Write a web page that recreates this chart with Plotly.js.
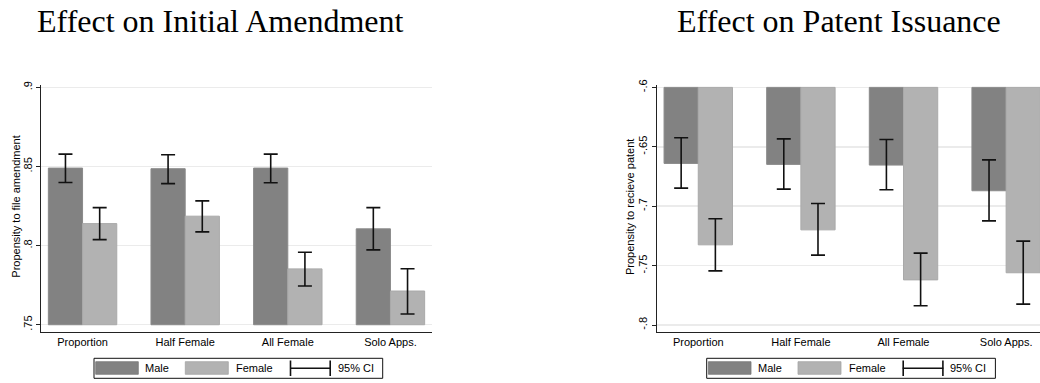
<!DOCTYPE html>
<html>
<head>
<meta charset="utf-8">
<script src="https://cdn.plot.ly/plotly-3.0.1.min.js"></script>
<style>
html, body { margin:0; padding:0; overflow:hidden; background:#fff; width:1040px; height:383px; }
#chart { width:1048px; height:383px; }
</style>
</head>
<body>
<div id="chart"></div>
<script>
// ---- data ----
var categories = ['Proportion', 'Half Female', 'All Female', 'Solo Apps.'];
var amendMale     = [0.8490, 0.8486, 0.8490, 0.8106];
var amendMaleLo   = [0.8399, 0.8392, 0.8397, 0.7973];
var amendMaleHi   = [0.8578, 0.8574, 0.8578, 0.8240];
var amendFemale   = [0.8139, 0.8186, 0.7853, 0.7713];
var amendFemaleLo = [0.8038, 0.8087, 0.7745, 0.7568];
var amendFemaleHi = [0.8240, 0.8283, 0.7958, 0.7854];
var issueMale     = [-0.6640, -0.6648, -0.6654, -0.6870];
var issueMaleLo   = [-0.6848, -0.6856, -0.6862, -0.7123];
var issueMaleHi   = [-0.6424, -0.6433, -0.6438, -0.6610];
var issueFemale   = [-0.7325, -0.7199, -0.7620, -0.7560];
var issueFemaleLo = [-0.7544, -0.7412, -0.7838, -0.7824];
var issueFemaleHi = [-0.7106, -0.6977, -0.7395, -0.7294];
var amendTicks = [0.75, 0.8, 0.85, 0.9];
var amendTickText = ['.75', '.8', '.85', '.9'];
var issueTicks = [-0.8, -0.75, -0.7, -0.65, -0.6];
var issueTickText = ['-.8', '-.75', '-.7', '-.65', '-.6'];
var seriesNames = ['Male', 'Female', '95% CI'];
var titles = ['Effect on Initial Amendment', 'Effect on Patent Issuance'];
var yTitles = ['Propensity to file amendment', 'Propensity to recieve patent'];

// ---- style ----
var W = 1048, H = 383;
var maleColor = '#828282', femaleColor = '#b2b2b2';
var sans = 'Liberation Sans, Arial, sans-serif';
var serif = 'Liberation Serif, Times New Roman, serif';
function px(x) { return x / W; }
function py(y) { return 1 - y / H; }

function barTrace(vals, lo, hi, base, color, lineColor, xa, ya) {
  return {
    type: 'bar', x: categories,
    y: vals.map(function (v) { return v - base; }),
    base: base, xaxis: xa, yaxis: ya, showlegend: false,
    marker: { color: color, line: { color: lineColor, width: 1 } },
    error_y: {
      type: 'data', symmetric: false,
      array: vals.map(function (v, i) { return hi[i] - v; }),
      arrayminus: vals.map(function (v, i) { return v - lo[i]; }),
      color: '#111', thickness: 1.6, width: 7
    },
    hoverinfo: 'skip'
  };
}

var data = [
  barTrace(amendMale, amendMaleLo, amendMaleHi, 0.75, maleColor, '#8a8a8a', 'x', 'y'),
  barTrace(amendFemale, amendFemaleLo, amendFemaleHi, 0.75, femaleColor, '#a9a9a9', 'x', 'y'),
  barTrace(issueMale, issueMaleLo, issueMaleHi, -0.6, maleColor, '#8a8a8a', 'x2', 'y2'),
  barTrace(issueFemale, issueFemaleLo, issueFemaleHi, -0.6, femaleColor, '#a9a9a9', 'x2', 'y2')
];

var yTop = 85, yBot = 331.7;
function xaxis(d0, d1, anchor) {
  return {
    domain: [px(d0), px(d1)], anchor: anchor, type: 'category',
    range: [-0.405, 3.405], showline: true, linecolor: '#222', linewidth: 1,
    ticks: '', showgrid: false, zeroline: false,
    tickfont: { family: sans, size: 11, color: '#000' }, fixedrange: true
  };
}
function yaxis(range, tv, tt, anchor) {
  return {
    domain: [py(yBot), py(yTop)], anchor: anchor, range: range,
    tickvals: tv, ticktext: tt, tickangle: -90,
    ticks: 'outside', ticklen: 4, tickcolor: '#222', tickwidth: 1,
    showline: true, linecolor: '#222', linewidth: 1,
    showgrid: true, gridcolor: '#ebebeb', gridwidth: 1.5, zeroline: false,
    tickfont: { family: sans, size: 11, color: '#000' }, fixedrange: true
  };
}

var shapes = [], annotations = [];
// titles
[[220.7, titles[0]], [839.4, titles[1]]].forEach(function (t) {
  annotations.push({ xref: 'paper', yref: 'paper', x: px(t[0]), y: py(1), xanchor: 'center', yanchor: 'top',
    text: t[1], showarrow: false, font: { family: serif, size: 32, color: '#000' } });
});
// y titles
[[15.7, yTitles[0]], [630, yTitles[1]]].forEach(function (t) {
  annotations.push({ xref: 'paper', yref: 'paper', x: px(t[0]), y: py(207), xanchor: 'center', yanchor: 'middle',
    text: t[1], textangle: -90, showarrow: false, font: { family: sans, size: 11, color: '#000' } });
});
// legends
[0, 612.7].forEach(function (dx) {
  shapes.push({ type: 'rect', xref: 'paper', yref: 'paper', x0: px(94 + dx), x1: px(382.7 + dx), y0: py(378.3), y1: py(358.3),
    line: { color: '#111', width: 1 }, fillcolor: 'rgba(0,0,0,0)' });
  shapes.push({ type: 'rect', xref: 'paper', yref: 'paper', x0: px(95.7 + dx), x1: px(138.3 + dx), y0: py(374.3), y1: py(361.7),
    line: { color: '#777', width: 0.8 }, fillcolor: maleColor });
  shapes.push({ type: 'rect', xref: 'paper', yref: 'paper', x0: px(185.3 + dx), x1: px(228.3 + dx), y0: py(374.3), y1: py(361.7),
    line: { color: '#a5a5a5', width: 0.8 }, fillcolor: femaleColor });
  shapes.push({ type: 'line', xref: 'paper', yref: 'paper', x0: px(290 + dx), x1: px(330.7 + dx), y0: py(368.3), y1: py(368.3),
    line: { color: '#111', width: 1.4 } });
  shapes.push({ type: 'line', xref: 'paper', yref: 'paper', x0: px(290.5 + dx), x1: px(290.5 + dx), y0: py(360.5), y1: py(376),
    line: { color: '#111', width: 1.6 } });
  shapes.push({ type: 'line', xref: 'paper', yref: 'paper', x0: px(330.2 + dx), x1: px(330.2 + dx), y0: py(360.5), y1: py(376),
    line: { color: '#111', width: 1.6 } });
  [[144.3, seriesNames[0]], [235, seriesNames[1]], [336.7, seriesNames[2]]].forEach(function (t) {
    annotations.push({ xref: 'paper', yref: 'paper', x: px(t[0] + dx), y: py(368.3), xanchor: 'left', yanchor: 'middle',
      text: t[1], showarrow: false, borderpad: 0, font: { family: sans, size: 11, color: '#000' } });
  });
});

var layout = {
  width: W, height: H, margin: { l: 0, r: 0, t: 0, b: 0, pad: 0 },
  paper_bgcolor: '#fff', plot_bgcolor: '#fff',
  barmode: 'group', bargap: 1 / 3, bargroupgap: 0, showlegend: false,
  xaxis: xaxis(41, 432, 'y'),
  yaxis: yaxis([0.7456, 0.9015], amendTicks, amendTickText, 'x'),
  xaxis2: xaxis(656.7, 1047.7, 'y2'),
  yaxis2: yaxis([-0.8056, -0.598], issueTicks, issueTickText, 'x2'),
  shapes: shapes, annotations: annotations
};

Plotly.newPlot('chart', data, layout, { displayModeBar: false, staticPlot: true });
</script>
</body>
</html>
